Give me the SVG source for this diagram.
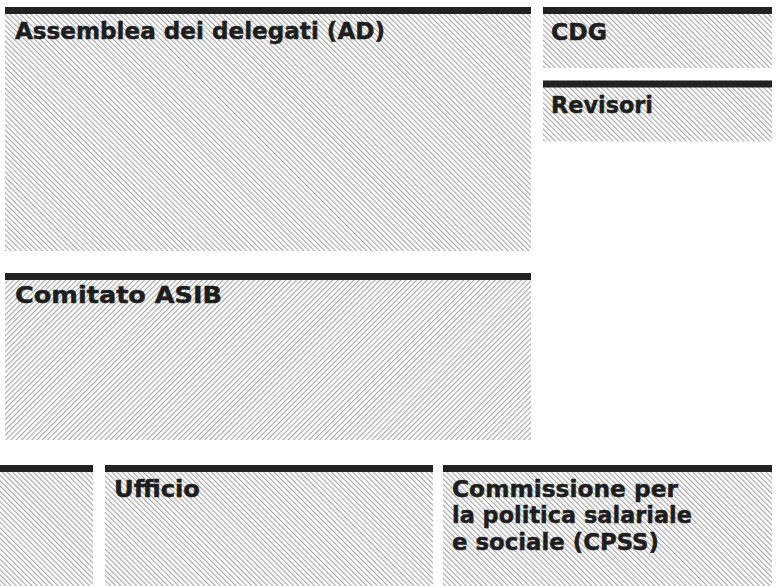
<svg xmlns="http://www.w3.org/2000/svg" width="777" height="586" viewBox="0 0 777 586">
  <defs>
    <pattern id="hatchB" width="3.7" height="10" patternUnits="userSpaceOnUse" patternTransform="rotate(-45)">
      <line x1="0.6" y1="0" x2="0.6" y2="10" stroke="#a2a2a2" stroke-width="1.1"/>
    </pattern>
    <pattern id="hatchF" width="3.7" height="10" patternUnits="userSpaceOnUse" patternTransform="rotate(45)">
      <line x1="0.6" y1="0" x2="0.6" y2="10" stroke="#a2a2a2" stroke-width="1.1"/>
    </pattern>
  </defs>
  <style>
    .bar { fill: #222222; }
    .hb { fill: url(#hatchB); }
    .hf { fill: url(#hatchF); }
    .t { font-family: "DejaVu Sans", "Liberation Sans", sans-serif; font-weight: bold; font-size: 23.5px; fill: #1e1e1e; stroke: #1e1e1e; stroke-width: 0.5px; }
  </style>
  <rect width="777" height="586" fill="#ffffff"/>

  <g id="assemblea">
    <rect class="hb" x="5" y="7" width="526" height="244"/>
    <rect class="bar" x="5" y="7" width="526" height="7"/>
    <text class="t" x="15" y="39" textLength="370" lengthAdjust="spacingAndGlyphs">Assemblea dei delegati (AD)</text>
  </g>

  <g id="cdg">
    <rect class="hb" x="543" y="7" width="229" height="61"/>
    <rect class="bar" x="543" y="7" width="229" height="7"/>
    <text class="t" x="551" y="40" textLength="56" lengthAdjust="spacingAndGlyphs">CDG</text>
  </g>

  <g id="revisori">
    <rect class="hb" x="543" y="80.5" width="229" height="61"/>
    <rect class="bar" x="543" y="80.5" width="229" height="7"/>
    <text class="t" x="551" y="113" textLength="102" lengthAdjust="spacingAndGlyphs">Revisori</text>
  </g>

  <g id="comitato">
    <rect class="hf" x="5" y="273" width="526" height="167"/>
    <rect class="bar" x="5" y="273" width="526" height="7"/>
    <text class="t" x="15" y="303" textLength="207" lengthAdjust="spacingAndGlyphs">Comitato ASIB</text>
  </g>

  <g id="box-left">
    <rect class="hb" x="0" y="465" width="93" height="121"/>
    <rect class="bar" x="0" y="465" width="93" height="7"/>
  </g>

  <g id="ufficio">
    <rect class="hb" x="105" y="465" width="328" height="121"/>
    <rect class="bar" x="105" y="465" width="328" height="7"/>
    <text class="t" x="114" y="497" textLength="86" lengthAdjust="spacingAndGlyphs">Ufficio</text>
  </g>

  <g id="cpss">
    <rect class="hb" x="443" y="465" width="329" height="121"/>
    <rect class="bar" x="443" y="465" width="329" height="7"/>
    <text class="t" x="452" y="497" textLength="226" lengthAdjust="spacingAndGlyphs">Commissione per</text>
    <text class="t" x="452" y="523" textLength="240" lengthAdjust="spacingAndGlyphs">la politica salariale</text>
    <text class="t" x="452" y="549.5" textLength="207" lengthAdjust="spacingAndGlyphs">e sociale (CPSS)</text>
  </g>

  <g id="connectors"></g>
</svg>
